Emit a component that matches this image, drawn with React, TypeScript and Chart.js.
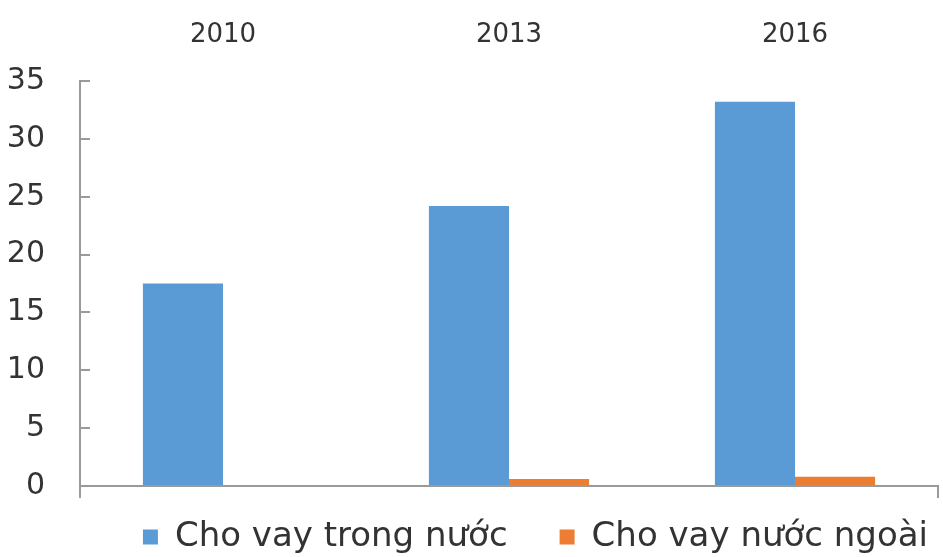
import React, { useEffect, useRef } from "react";
import { Chart, registerables } from "chart.js";

Chart.register(...registerables);

const categories = ["2010", "2013", "2016"];
const domesticLabel = "Cho vay trong nước";
const foreignLabel = "Cho vay nước ngoài";
const domesticValues = [17.5, 24.2, 33.2];
const foreignValues = [0, 0.6, 0.8];
const yMin = 0;
const yMax = 35;
const yStep = 5;

const BLUE = "#5B9BD5";
const ORANGE = "#ED7D31";
const AXIS = "#9A9A9A";
const TEXT = "#333333";
const FONT = "DejaVu Sans";

export default function App() {
  const ref = useRef<HTMLCanvasElement | null>(null);

  useEffect(() => {
    document.body.style.margin = "0";
    const canvas = ref.current;
    if (!canvas) return;
    const chart = new Chart(canvas, {
      type: "bar",
      data: {
        labels: categories,
        datasets: [
          {
            label: domesticLabel,
            data: domesticValues,
            backgroundColor: BLUE,
            borderWidth: 0,
            categoryPercentage: 0.56,
            barPercentage: 1,
          },
          {
            label: foreignLabel,
            data: foreignValues,
            backgroundColor: ORANGE,
            borderWidth: 0,
            categoryPercentage: 0.56,
            barPercentage: 1,
          },
        ],
      },
      options: {
        responsive: false,
        animation: false,
        devicePixelRatio: 1,
        layout: { padding: { left: 0, right: 5, top: 0, bottom: -7 } },
        scales: {
          x: {
            type: "category",
            position: "bottom",
            offset: true,
            ticks: { display: false },
            grid: {
              offset: true,
              drawOnChartArea: false,
              drawTicks: true,
              tickLength: 12,
              lineWidth: 2,
              color: (ctx: any) =>
                ctx.type === "tick" && ctx.index > 0 ? "rgba(0,0,0,0)" : AXIS,
            },
            border: { display: true, color: AXIS, width: 2 },
            afterFit: (scale: any) => {
              scale.height = 24;
            },
          },
          x2: {
            type: "category",
            position: "top",
            labels: categories,
            offset: true,
            grid: { display: false, drawTicks: false },
            border: { display: false },
            ticks: {
              color: TEXT,
              padding: 30,
              font: { family: FONT, size: 26 },
              maxRotation: 0,
            },
            afterFit: (scale: any) => {
              scale.height = 81;
            },
          },
          y: {
            type: "linear",
            position: "left",
            min: yMin,
            max: yMax,
            ticks: {
              stepSize: yStep,
              color: TEXT,
              padding: 45,
              font: { family: FONT, size: 30 },
            },
            grid: {
              drawOnChartArea: false,
              drawTicks: true,
              tickLength: -10,
              lineWidth: 2,
              color: AXIS,
            },
            border: { display: true, color: AXIS, width: 2 },
            afterFit: (scale: any) => {
              scale.width = 80;
            },
          },
        },
        plugins: {
          title: { display: false },
          tooltip: { enabled: false },
          legend: {
            display: true,
            position: "bottom",
            align: "end",
            onClick: () => {},
            labels: {
              boxWidth: 15,
              boxHeight: 15,
              padding: 10,
              color: TEXT,
              font: { family: FONT, size: 34 },
              generateLabels: () => [
                {
                  text: domesticLabel,
                  fillStyle: BLUE,
                  strokeStyle: BLUE,
                  lineWidth: 0,
                  hidden: false,
                  datasetIndex: 0,
                  fontColor: TEXT,
                },
                {
                  text: "",
                  fillStyle: "rgba(0,0,0,0)",
                  strokeStyle: "rgba(0,0,0,0)",
                  lineWidth: 0,
                  hidden: false,
                  fontColor: TEXT,
                },
                {
                  text: foreignLabel,
                  fillStyle: ORANGE,
                  strokeStyle: ORANGE,
                  lineWidth: 0,
                  hidden: false,
                  datasetIndex: 1,
                  fontColor: TEXT,
                },
              ],
            },
          },
        },
      },
    });
    return () => chart.destroy();
  }, []);

  return (
    <div style={{ width: 943, height: 557, background: "#ffffff" }}>
      <canvas ref={ref} width={943} height={557} style={{ display: "block" }} />
    </div>
  );
}
